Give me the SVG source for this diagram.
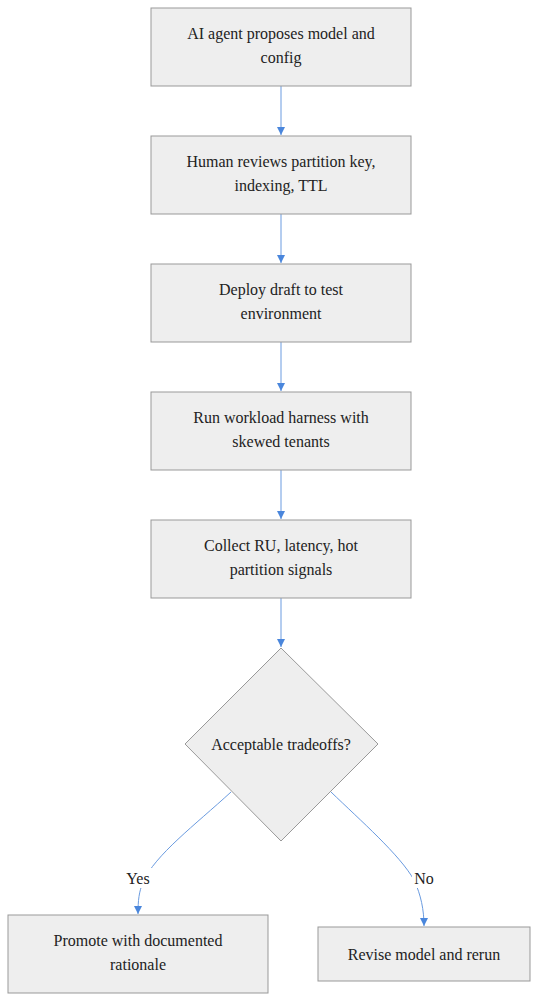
<svg xmlns="http://www.w3.org/2000/svg" width="538" height="1002" viewBox="0 0 538 1002">
<style>
.box{fill:#eeeeee;stroke:#999999;stroke-width:1}
.t{font-size:16px;fill:#222222;text-anchor:middle}
.e{fill:none;stroke:#6a9be0;stroke-width:1}
.lb{fill:#ffffff}
</style>
<defs>
<marker id="arr" viewBox="0 0 10 10" refX="10" refY="5" markerWidth="8" markerHeight="8" markerUnits="userSpaceOnUse" orient="auto">
<path d="M0,0 L10,5 L0,10 z" fill="#4a86dc"/>
</marker>
</defs>
<rect width="538" height="1002" fill="#ffffff"/>
<g font-family="'Liberation Serif', Tinos, 'Times New Roman', 'DejaVu Serif', serif">
<g id="connectors">
<line class="e" x1="281" y1="86" x2="281" y2="135" marker-end="url(#arr)"/>
<line class="e" x1="281" y1="214" x2="281" y2="263" marker-end="url(#arr)"/>
<line class="e" x1="281" y1="342" x2="281" y2="391" marker-end="url(#arr)"/>
<line class="e" x1="281" y1="470" x2="281" y2="519" marker-end="url(#arr)"/>
<line class="e" x1="281" y1="598" x2="281" y2="647" marker-end="url(#arr)"/>
<path class="e" d="M231,792 C195,825 155,855 143,882 C139,892 138,900 138,914" marker-end="url(#arr)"/>
<path class="e" d="M331,792 C360,820 400,855 414,880 C421,895 424,910 424,926" marker-end="url(#arr)"/>
<rect class="lb" x="124" y="868" width="28" height="20"/>
<text class="t" x="138" y="884">Yes</text>
<rect class="lb" x="412" y="868" width="24" height="20"/>
<text class="t" x="424" y="884">No</text>
</g>
<g id="n1">
<rect class="box" x="151" y="8" width="260" height="78"/>
<text class="t" x="281" y="39">AI agent proposes model and</text>
<text class="t" x="281" y="63">config</text>
</g>
<g id="n2">
<rect class="box" x="151" y="136" width="260" height="78"/>
<text class="t" x="281" y="167">Human reviews partition key,</text>
<text class="t" x="281" y="191">indexing, TTL</text>
</g>
<g id="n3">
<rect class="box" x="151" y="264" width="260" height="78"/>
<text class="t" x="281" y="295">Deploy draft to test</text>
<text class="t" x="281" y="319">environment</text>
</g>
<g id="n4">
<rect class="box" x="151" y="392" width="260" height="78"/>
<text class="t" x="281" y="423">Run workload harness with</text>
<text class="t" x="281" y="447">skewed tenants</text>
</g>
<g id="n5">
<rect class="box" x="151" y="520" width="260" height="78"/>
<text class="t" x="281" y="551">Collect RU, latency, hot</text>
<text class="t" x="281" y="575">partition signals</text>
</g>
<g id="n6">
<polygon class="box" points="281,648 378,744 281,841 185,744"/>
<text class="t" x="281" y="750">Acceptable tradeoffs?</text>
</g>
<g id="n7">
<rect class="box" x="8" y="915" width="260" height="78"/>
<text class="t" x="138" y="946">Promote with documented</text>
<text class="t" x="138" y="970">rationale</text>
</g>
<g id="n8">
<rect class="box" x="318" y="927" width="212" height="54"/>
<text class="t" x="424" y="960">Revise model and rerun</text>
</g>
</g>
</svg>
